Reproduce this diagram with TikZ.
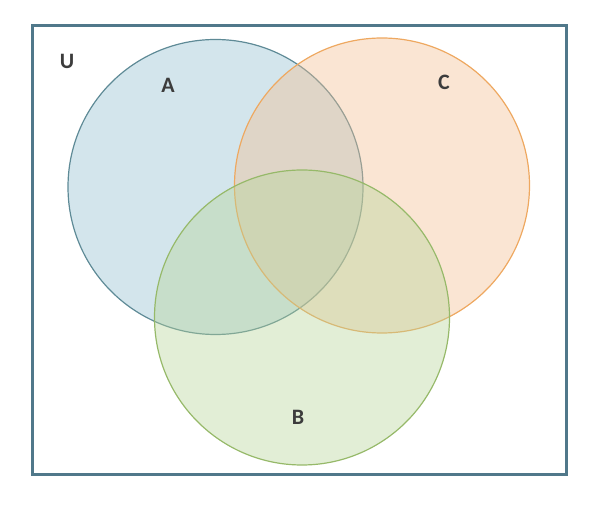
\documentclass[tikz,border=0pt]{standalone}
\usepackage{fontspec}
\setmainfont{Carlito}
\definecolor{aFill}{RGB}{145,190,207}
\definecolor{aLine}{RGB}{94,138,150}
\definecolor{cFill}{RGB}{242,190,145}
\definecolor{cLine}{RGB}{238,168,96}
\definecolor{bFill}{RGB}{182,212,152}
\definecolor{bLine}{RGB}{150,185,105}
\definecolor{frameCol}{RGB}{80,120,138}
\definecolor{txt}{RGB}{60,60,60}
\tikzset{
  setcircle/.style={circle, minimum size=295pt, inner sep=0pt, fill opacity=0.4, line width=1.2pt},
  lbl/.style={font=\fontsize{22}{24}\selectfont\bfseries, text=txt},
}
\begin{document}
\begin{tikzpicture}[x=1pt,y=-1pt]
\useasboundingbox (0,0) rectangle (608,510);
\node[draw=frameCol, line width=3pt, minimum width=534pt, minimum height=449pt, inner sep=0pt] (U) at (299.5,250.5) {};
\node[setcircle, draw=aLine, fill=aFill] (A) at (215.5,187) {};
\node[setcircle, draw=cLine, fill=cFill] (C) at (382,185.5) {};
\node[setcircle, draw=bLine, fill=bFill] (B) at (302,317.5) {};
\node[lbl] (lu) at (67,61) {U};
\node[lbl] (la) at (168,85) {A};
\node[lbl] (lc) at (444,82) {C};
\node[lbl] (lb) at (298,417) {B};
\end{tikzpicture}
\end{document}
